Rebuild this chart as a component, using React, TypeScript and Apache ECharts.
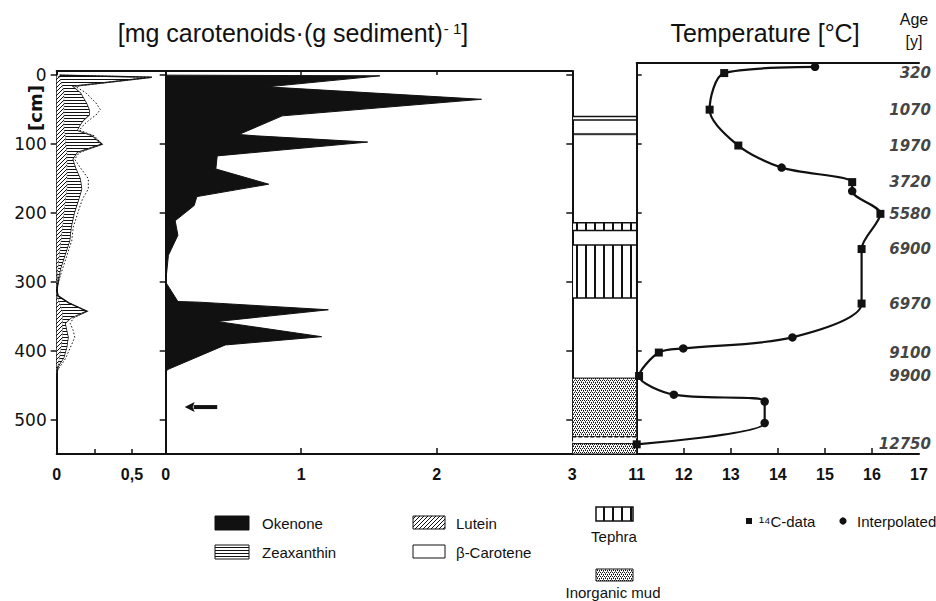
import React, { useEffect, useRef } from "react";
import * as echarts from "echarts";

// ---------- data ----------
const depthTicks = [0, 100, 200, 300, 400, 500];
const pigmentLabelTicks = [0, 0.5];
const okenoneTicks = [0, 1, 2, 3];
const tempTicks = [11, 12, 13, 14, 15, 16, 17];

// Okenone (mg/g) vs depth (cm)
const okenoneDepth = [0, 1, 17, 35, 59, 86, 88, 97, 117, 136, 158, 176, 189, 211, 232, 261, 300, 328, 329, 340, 357, 379, 391, 427, 434];
const okenoneValue = [0, 1.58, 0.75, 2.33, 0.86, 0.54, 0.67, 1.49, 0.38, 0.37, 0.76, 0.23, 0.21, 0.07, 0.09, 0.02, 0, 0.09, 0.25, 1.2, 0.38, 1.15, 0.44, 0.01, 0];

// Left panel pigments (stacked: lutein, zeaxanthin, beta-carotene)
const pigmentDepth = [0, 3, 16, 25, 40, 50, 58, 66, 72, 80, 88, 100, 112, 122, 135, 150, 165, 180, 200, 220, 240, 260, 280, 300, 312, 320, 330, 342, 352, 360, 370, 380, 395, 410, 420, 427, 435];
const lutein = [0, 0.02, 0.04, 0.05, 0.05, 0.05, 0.05, 0.05, 0.05, 0.05, 0.06, 0.06, 0.07, 0.07, 0.07, 0.07, 0.07, 0.06, 0.05, 0.04, 0.03, 0.02, 0.01, 0.005, 0, 0.005, 0.02, 0.04, 0.04, 0.04, 0.04, 0.04, 0.03, 0.02, 0.01, 0, 0];
const zeaxanthin = [0.02, 0.61, 0.07, 0.11, 0.15, 0.17, 0.17, 0.13, 0.11, 0.09, 0.18, 0.24, 0.07, 0.04, 0.06, 0.09, 0.1, 0.09, 0.07, 0.06, 0.06, 0.04, 0.02, 0.005, 0, 0.005, 0.06, 0.16, 0.06, 0.02, 0.03, 0.04, 0.04, 0.03, 0.01, 0.005, 0];
const betaCarotene = [0, 0, 0.01, 0.03, 0.06, 0.07, 0.04, 0.03, 0.02, 0.01, 0.01, 0, 0.01, 0.01, 0.03, 0.05, 0.04, 0.02, 0.02, 0.01, 0.01, 0.01, 0.01, 0, 0, 0, 0, 0, 0.01, 0.03, 0.04, 0.04, 0.02, 0.01, 0.01, 0, 0];

// Lithology layers (cm)
const lithoTop = [60, 84.5, 214, 246, 439, 524, 534];
const lithoBottom = [65, 86.5, 225, 323, 524, 534, 549];
// 0 band, 1 line, 2 tephra band, 3 tephra, 4 inorganic mud, 5 dashed band
const lithoKind = [0, 1, 2, 3, 4, 5, 4];

// Temperature reconstruction
const tempDepth = [-12, -3, 50, 102, 134, 155, 168, 201, 252, 331, 380, 396, 402, 436, 463, 473, 504, 535];
const tempValue = [14.79, 12.86, 12.55, 13.16, 14.08, 15.58, 15.58, 16.18, 15.78, 15.78, 14.31, 11.99, 11.47, 11.05, 11.79, 13.72, 13.72, 11.0];
const tempIs14C = [false, true, true, true, false, true, false, true, true, true, false, false, true, true, false, false, false, true];
const ages = ["320", "1070", "1970", "3720", "5580", "6900", "6970", "9100", "9900", "12750"];

// arrow annotation in okenone panel
const arrowDepth = 481;
const arrowFrom = 0.38;
const arrowTo = 0.14;

// ---------- style ----------
const INK = "#111";
const F_SANS = "'Liberation Sans', Arial, Helvetica, sans-serif";
const F_NARROW = "'Liberation Sans Narrow', 'Liberation Sans', Arial, sans-serif";
const F_WIDE = "'DejaVu Sans', 'Liberation Sans', sans-serif";

function makePattern(w: number, h: number, draw: (ctx: CanvasRenderingContext2D) => void): any {
  const c = document.createElement("canvas");
  c.width = w;
  c.height = h;
  const ctx = c.getContext("2d")!;
  ctx.fillStyle = "#fff";
  ctx.fillRect(0, 0, w, h);
  ctx.fillStyle = INK;
  draw(ctx);
  return { image: c.toDataURL(), repeat: "repeat", imageWidth: w, imageHeight: h };
}

function buildOption(): any {
  const hLines = makePattern(4, 3, (ctx) => ctx.fillRect(0, 1, 4, 1));
  const diag = makePattern(4, 4, (ctx) => {
    for (let i = 0; i < 4; i++) ctx.fillRect(i, 3 - i, 1, 1);
  });
  const vStripes = makePattern(9, 4, (ctx) => ctx.fillRect(0, 0, 2, 4));
  const stipple = makePattern(4, 4, (ctx) => {
    ctx.fillRect(0, 0, 1, 1);
    ctx.fillRect(2, 0, 1, 1);
    ctx.fillRect(1, 2, 1, 1);
    ctx.fillRect(3, 2, 1, 1);
    ctx.fillStyle = "#666";
    ctx.fillRect(1, 1, 1, 1);
    ctx.fillRect(3, 3, 1, 1);
  });

  const cumL = lutein.slice();
  const cumZ = lutein.map((v, i) => v + zeaxanthin[i]);
  const cumB = cumZ.map((v, i) => v + betaCarotene[i]);
  const zeros = lutein.map(() => 0);

  const Y_MIN = -6;
  const Y_MAX = 549;
  const T_Y_MIN = -17.6;

  const axisLine = { show: true, onZero: false, lineStyle: { color: INK, width: 2 } };
  const noTick = { show: false };
  const noLabel = { show: false };
  const xLabel = { show: true, margin: 12, color: INK, fontSize: 16, fontFamily: F_NARROW, fontWeight: "bold" };

  const bandSeries = (name: string, inner: number[], outer: number[], fill: any, stroke: string, lineDash: any, lw: number) => ({
    type: "custom",
    name,
    xAxisIndex: 0,
    yAxisIndex: 0,
    clip: true,
    data: outer.map((v, i) => [v, pigmentDepth[i]]),
    renderItem: (params: any, api: any) => {
      if (params.dataIndex !== 0) return null;
      const outerPts = outer.map((v, i) => api.coord([v, pigmentDepth[i]]));
      const innerPts = inner.map((v, i) => api.coord([v, pigmentDepth[i]])).reverse();
      return {
        type: "group",
        children: [
          { type: "polygon", shape: { points: outerPts.concat(innerPts) }, style: { fill, stroke: "none" } },
          { type: "polyline", shape: { points: outerPts }, style: { fill: "none", stroke, lineWidth: lw, lineDash } },
        ],
      };
    },
  });

  const ages14CDepth = tempDepth.filter((_, i) => tempIs14C[i]);

  const legendText = (x: number, y: number, text: string, align = "left") => ({
    type: "text",
    x,
    y,
    style: { text, fontSize: 15, fontFamily: F_SANS, fill: INK, align, verticalAlign: "middle" },
  });

  return {
    animation: false,
    backgroundColor: "#fff",
    grid: [
      { left: 56.7, top: 71, width: 109, height: 383, outerBoundsMode: "none" },
      { left: 165.7, top: 71, width: 406.6, height: 383, outerBoundsMode: "none" },
      { left: 572.3, top: 71, width: 64.4, height: 383, outerBoundsMode: "none" },
      { left: 636.7, top: 63, width: 282.3, height: 391, outerBoundsMode: "none" },
    ],
    xAxis: [
      {
        gridIndex: 0, type: "value", position: "bottom", min: 0, max: 0.724,
        axisLine, splitLine: { show: false },
        axisTick: { show: true, inside: true, length: 5, customValues: [0.25, 0.5], lineStyle: { color: INK, width: 1.5 } },
        axisLabel: {
          ...xLabel, customValues: pigmentLabelTicks,
          formatter: (v: number) => (v === 0 ? "0" : String(v).replace(".", ",")),
        },
      },
      { gridIndex: 0, type: "value", position: "top", min: 0, max: 0.724, axisLine, axisTick: noTick, axisLabel: noLabel, splitLine: { show: false } },
      {
        gridIndex: 1, type: "value", position: "bottom", min: 0, max: 3, interval: 1,
        axisLine, splitLine: { show: false },
        axisTick: { show: true, inside: true, length: 6, customValues: [1, 2], lineStyle: { color: INK, width: 1.5 } },
        axisLabel: { ...xLabel, customValues: okenoneTicks },
      },
      {
        gridIndex: 1, type: "value", position: "top", min: 0, max: 3,
        axisLine, splitLine: { show: false },
        axisTick: { show: true, inside: true, length: 4, customValues: [1, 2], lineStyle: { color: INK, width: 1.5 } },
        axisLabel: noLabel,
      },
      { gridIndex: 2, type: "value", position: "bottom", min: 0, max: 1, axisLine, axisTick: noTick, axisLabel: noLabel, splitLine: { show: false } },
      {
        gridIndex: 3, type: "value", position: "bottom", min: 11, max: 17, interval: 1,
        axisLine, splitLine: { show: false },
        axisTick: { show: true, inside: true, length: 6, customValues: [12, 13, 14, 15, 16], lineStyle: { color: INK, width: 1.5 } },
        axisLabel: { ...xLabel, customValues: tempTicks },
      },
      { gridIndex: 3, type: "value", position: "top", min: 11, max: 17, axisLine, axisTick: noTick, axisLabel: noLabel, splitLine: { show: false } },
    ],
    yAxis: [
      {
        gridIndex: 0, type: "value", inverse: true, position: "left", min: Y_MIN, max: Y_MAX,
        axisLine, splitLine: { show: false },
        axisTick: { show: true, inside: false, length: 6, customValues: depthTicks, lineStyle: { color: INK, width: 1.5 } },
        axisLabel: { show: true, customValues: depthTicks, margin: 10, color: INK, fontSize: 17, fontFamily: F_WIDE },
      },
      {
        gridIndex: 1, type: "value", inverse: true, position: "left", min: Y_MIN, max: Y_MAX,
        axisLine, splitLine: { show: false },
        axisTick: { show: true, inside: false, length: 6, customValues: depthTicks, lineStyle: { color: INK, width: 1.5 } },
        axisLabel: noLabel,
      },
      {
        gridIndex: 2, type: "value", inverse: true, position: "left", min: Y_MIN, max: Y_MAX,
        axisLine, splitLine: { show: false },
        axisTick: { show: true, inside: false, length: 6, customValues: depthTicks, lineStyle: { color: INK, width: 1.5 } },
        axisLabel: noLabel,
      },
      {
        gridIndex: 2, type: "value", inverse: true, position: "right", min: Y_MIN, max: Y_MAX,
        axisLine: { show: false, onZero: false }, splitLine: { show: false },
        axisTick: { show: true, inside: false, length: 5, customValues: depthTicks, lineStyle: { color: INK, width: 1.5 } },
        axisLabel: noLabel,
      },
      {
        gridIndex: 3, type: "value", inverse: true, position: "left", min: T_Y_MIN, max: Y_MAX,
        axisLine, splitLine: { show: false }, axisTick: noTick, axisLabel: noLabel,
      },
    ],
    series: [
      bandSeries("Lutein", zeros, cumL, diag, "#444", null, 0.6),
      bandSeries("Zeaxanthin", cumL, cumZ, hLines, INK, null, 1.5),
      bandSeries("β-Carotene", cumZ, cumB, "#fff", INK, [1.5, 2], 1),
      {
        type: "custom",
        name: "Okenone",
        xAxisIndex: 2,
        yAxisIndex: 1,
        clip: true,
        data: okenoneValue.map((v, i) => [v, okenoneDepth[i]]),
        renderItem: (params: any, api: any) => {
          if (params.dataIndex !== 0) return null;
          const pts = okenoneValue.map((v, i) => api.coord([v, okenoneDepth[i]]));
          return { type: "polygon", shape: { points: pts }, style: { fill: INK, stroke: INK, lineWidth: 1 } };
        },
      },
      {
        type: "custom",
        name: "arrow",
        xAxisIndex: 2,
        yAxisIndex: 1,
        clip: false,
        data: [[arrowTo, arrowDepth, arrowFrom]],
        renderItem: (params: any, api: any) => {
          const tip = api.coord([api.value(0), api.value(1)]);
          const tail = api.coord([api.value(2), api.value(1)]);
          const head = 10;
          return {
            type: "group",
            children: [
              { type: "line", shape: { x1: tail[0], y1: tail[1], x2: tip[0] + head - 1, y2: tip[1] }, style: { stroke: INK, lineWidth: 4 } },
              {
                type: "polygon",
                shape: { points: [[tip[0], tip[1]], [tip[0] + head, tip[1] - 5], [tip[0] + head - 2, tip[1]], [tip[0] + head, tip[1] + 5]] },
                style: { fill: INK },
              },
            ],
          };
        },
      },
      {
        type: "custom",
        name: "Lithology",
        xAxisIndex: 4,
        yAxisIndex: 2,
        clip: true,
        encode: { x: 0, y: [1, 2] },
        data: lithoTop.map((t, i) => [0.5, t, lithoBottom[i], lithoKind[i]]),
        renderItem: (params: any, api: any) => {
          const top = api.value(1);
          const bottom = api.value(2);
          const kind = api.value(3);
          const a = api.coord([0, top]);
          const b = api.coord([1, bottom]);
          const shape = { x: a[0], y: a[1], width: b[0] - a[0], height: b[1] - a[1] };
          let style: any = { fill: "#fff", stroke: INK, lineWidth: 1.5 };
          if (kind === 1) style = { fill: INK, stroke: INK, lineWidth: 0.5 };
          else if (kind === 2 || kind === 3) style = { fill: vStripes, stroke: INK, lineWidth: 1.5 };
          else if (kind === 4) style = { fill: stipple, stroke: INK, lineWidth: 1 };
          else if (kind === 5) style = { fill: "#fff", stroke: INK, lineWidth: 1.5, lineDash: [4, 2] };
          return { type: "rect", shape, style };
        },
      },
      {
        type: "line",
        name: "Temperature",
        xAxisIndex: 5,
        yAxisIndex: 4,
        clip: false,
        smooth: 0.3,
        showSymbol: true,
        lineStyle: { color: INK, width: 2.2 },
        itemStyle: { color: INK },
        data: tempValue.map((t, i) => ({
          value: [t, tempDepth[i]],
          symbol: tempIs14C[i] ? "rect" : "circle",
          symbolSize: tempIs14C[i] ? 8 : 8.5,
        })),
      },
      {
        type: "scatter",
        name: "Age",
        xAxisIndex: 5,
        yAxisIndex: 4,
        clip: false,
        symbolSize: 0,
        data: ages14CDepth.map((d) => [17, d]),
        label: {
          show: true,
          position: [12, 0],
          align: "right",
          verticalAlign: "middle",
          formatter: (p: any) => ages[p.dataIndex],
          color: INK,
          fontSize: 15,
          fontStyle: "italic",
          fontWeight: "bold",
          fontFamily: F_WIDE,
        },
      },
    ],
    graphic: [
      {
        type: "text", x: 293, y: 33,
        style: {
          text: "[mg carotenoids·(g sediment){sup|- 1}]",
          fontSize: 25, fontFamily: F_SANS, fill: INK, align: "center", verticalAlign: "middle",
          rich: { sup: { fontSize: 15, fontFamily: F_SANS, fill: INK, verticalAlign: "top", padding: [0, 0, 10, 1] } },
        },
      },
      {
        type: "text", x: 765, y: 33,
        style: { text: "Temperature [°C]", fontSize: 25, fontFamily: F_SANS, fill: INK, align: "center", verticalAlign: "middle" },
      },
      { type: "text", x: 914, y: 19, style: { text: "Age", fontSize: 16, fontFamily: F_SANS, fill: INK, align: "center", verticalAlign: "middle" } },
      { type: "text", x: 914, y: 41, style: { text: "[y]", fontSize: 16, fontFamily: F_SANS, fill: INK, align: "center", verticalAlign: "middle" } },
      {
        type: "text", x: 35, y: 108, rotation: Math.PI / 2,
        style: { text: "[cm]", fontSize: 18, fontWeight: "bold", fontFamily: F_WIDE, fill: INK, align: "center", verticalAlign: "middle" },
      },
      // legend
      { type: "rect", shape: { x: 215, y: 516, width: 34, height: 14 }, style: { fill: INK, stroke: INK, lineWidth: 1 } },
      legendText(262, 523, "Okenone"),
      { type: "rect", shape: { x: 215, y: 545, width: 34, height: 14 }, style: { fill: hLines, stroke: INK, lineWidth: 1 } },
      legendText(262, 552, "Zeaxanthin"),
      { type: "rect", shape: { x: 413, y: 516, width: 32, height: 13 }, style: { fill: diag, stroke: INK, lineWidth: 1 } },
      legendText(456, 523, "Lutein"),
      { type: "rect", shape: { x: 413, y: 545, width: 32, height: 13 }, style: { fill: "#fff", stroke: INK, lineWidth: 1 } },
      legendText(456, 552, "β-Carotene"),
      { type: "rect", shape: { x: 596, y: 507, width: 37, height: 14 }, style: { fill: vStripes, stroke: INK, lineWidth: 1.5 } },
      legendText(614, 536, "Tephra", "center"),
      { type: "rect", shape: { x: 596, y: 569, width: 37, height: 12 }, style: { fill: stipple, stroke: INK, lineWidth: 1 } },
      legendText(613, 592, "Inorganic mud", "center"),
      { type: "rect", shape: { x: 746, y: 518, width: 6, height: 6 }, style: { fill: INK } },
      legendText(759, 521, "¹⁴C-data"),
      { type: "circle", shape: { cx: 843, cy: 521, r: 3.6 }, style: { fill: INK } },
      legendText(857, 521, "Interpolated"),
    ],
  };
}

export default function App() {
  const ref = useRef<HTMLDivElement>(null);
  useEffect(() => {
    if (!ref.current) return;
    const chart = echarts.init(ref.current, null, { renderer: "svg" });
    chart.setOption(buildOption());
    return () => chart.dispose();
  }, []);
  return (
    <div
      ref={ref}
      style={{ position: "absolute", left: 0, top: 0, width: 936, height: 601, background: "#fff" }}
    />
  );
}
